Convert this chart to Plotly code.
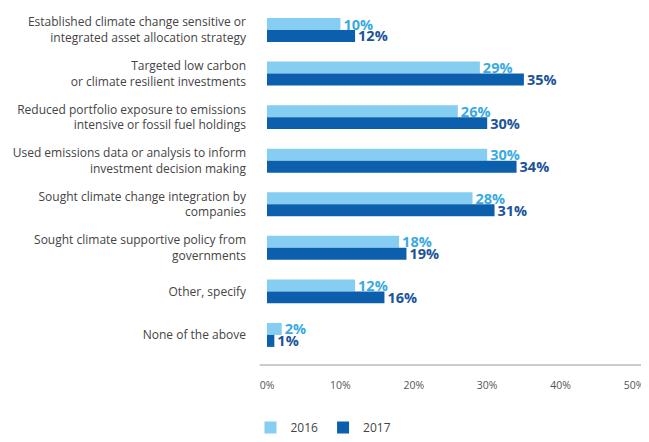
import plotly.graph_objects as go

categories = [
    "Established climate change sensitive or<br>integrated asset allocation strategy",
    "Targeted low carbon<br>or climate resilient investments",
    "Reduced portfolio exposure to emissions<br>intensive or fossil fuel holdings",
    "Used emissions data or analysis to inform<br>investment decision making",
    "Sought climate change integration by<br>companies",
    "Sought climate supportive policy from<br>governments",
    "Other, specify",
    "None of the above",
]
vals_2016 = [10, 29, 26, 30, 28, 18, 12, 2]
vals_2017 = [12, 35, 30, 34, 31, 19, 16, 1]
x_ticks = [0, 10, 20, 30, 40, 50]

LIGHT = "#86cdf2"
DARK = "#0b5fad"
LIGHT_TXT = "#3aaae2"
DARK_TXT = "#1c5399"

pos = list(range(len(categories)))

fig = go.Figure()
fig.add_trace(go.Bar(
    y=pos, x=vals_2016, orientation="h", name="2016",
    marker=dict(color=LIGHT, line=dict(width=0)),
    text=[f"{v}%" for v in vals_2016], textposition="outside",
    textfont=dict(color=LIGHT_TXT, size=14.5, family="Open Sans", weight="bold"),
    constraintext="none", cliponaxis=False,
))
fig.add_trace(go.Bar(
    y=pos, x=vals_2017, orientation="h", name="2017",
    marker=dict(color=DARK, line=dict(width=0)),
    text=[f"{v}%" for v in vals_2017], textposition="outside",
    textfont=dict(color=DARK_TXT, size=14.5, family="Open Sans", weight="bold"),
    constraintext="none", cliponaxis=False,
))

# page body has an 8px margin, so the figure is sized to fit the window
fig.update_layout(
    width=641, height=434,
    margin=dict(l=259, r=15, t=0, b=77),
    paper_bgcolor="white", plot_bgcolor="white",
    font=dict(family="Open Sans", color="#444444", size=12),
    barmode="group", bargap=0.45, bargroupgap=0,
    showlegend=True,
    legend=dict(
        orientation="h", x=-0.045, xanchor="left",
        yref="container", y=-0.015, yanchor="bottom",
        font=dict(size=12, color="#444444"), traceorder="normal",
    ),
    xaxis=dict(
        range=[0, 50], tickvals=x_ticks, ticktext=[f"{t}%" for t in x_ticks],
        showgrid=False, zeroline=False, showline=False,
        tickfont=dict(size=10.5, color="#555555"),
        ticks="", ticklabelstandoff=12, automargin=False,
        ticklabeloverflow="allow",
    ),
    yaxis=dict(
        tickvals=pos, ticktext=categories, range=[7.69, -0.505],
        showgrid=False, zeroline=False, showline=False,
        tickfont=dict(size=12, color="#444444"),
        ticks="", ticklabelstandoff=20, automargin=False,
    ),
    shapes=[dict(
        type="line", xref="paper", yref="paper", x0=-0.02, x1=1.04, y0=0, y1=0,
        line=dict(color="#bbbbbb", width=1.5),
    )],
)

fig.write_html("out.html")
